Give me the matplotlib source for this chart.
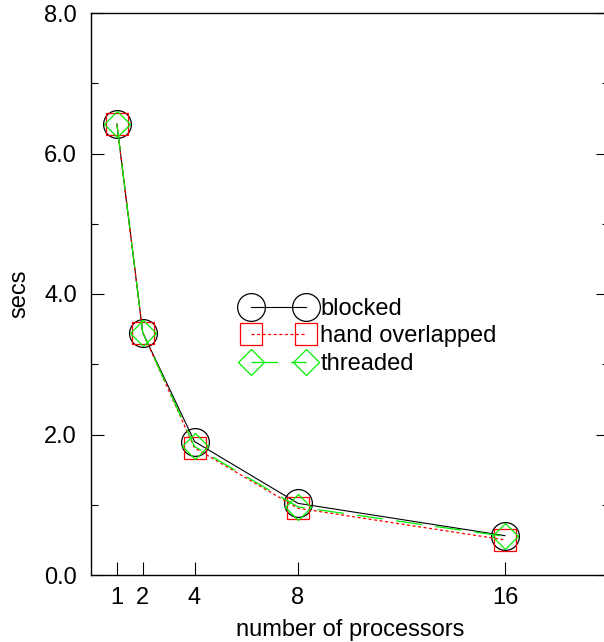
import matplotlib
matplotlib.use("Agg")
import matplotlib.pyplot as plt
from matplotlib.ticker import MultipleLocator, FixedLocator

plt.rcParams['font.family'] = ['Liberation Sans', 'DejaVu Sans']
plt.rcParams['lines.scale_dashes'] = False

procs = [1, 2, 4, 8, 16]
blocked = [6.42, 3.45, 1.90, 1.02, 0.56]
hand_overlapped = [6.42, 3.45, 1.81, 0.95, 0.50]
threaded = [6.42, 3.45, 1.83, 0.97, 0.55]
xticks = [1, 2, 4, 8, 16]
series_names = ["blocked", "hand overlapped", "threaded"]

fig = plt.figure(figsize=(6.04, 6.42), dpi=100)
W, H = 604, 642
ax = fig.add_axes([91 / W, (H - 575) / H, (608.5 - 91) / W, (575 - 13) / H])

ax.plot(procs, blocked, color='black', lw=0.8, marker='o', ms=20,
        mfc='none', mec='black', mew=0.9, label=series_names[0])
ax.plot(procs, hand_overlapped, color='red', lw=0.9, marker='s', ms=16.5,
        mfc='none', mec='red', mew=0.9, dashes=(2.2, 1.8), label=series_names[1])
ax.plot(procs, threaded, color='#00ee00', lw=0.9, marker='D', ms=13,
        mfc='none', mec='#00ee00', mew=0.9, dashes=(19, 9.5), label=series_names[2])

ax.set_xlim(0, 20)
ax.set_ylim(0, 8)
ax.xaxis.set_major_locator(FixedLocator(xticks))
ax.set_xticklabels([str(v) for v in xticks])
ax.yaxis.set_major_locator(MultipleLocator(2))
ax.yaxis.set_minor_locator(MultipleLocator(1))
ax.yaxis.set_major_formatter(matplotlib.ticker.FormatStrFormatter('%.1f'))

ax.tick_params(axis='x', which='both', direction='in', length=9.5, width=0.8,
               top=False, bottom=True, labelsize=17, pad=9)
ax.tick_params(axis='y', which='major', direction='in', length=9.5, width=0.8,
               left=True, right=True, labelsize=17, pad=10)
ax.tick_params(axis='y', which='minor', direction='in', length=5, width=0.8,
               left=True, right=True)
for s in ax.spines.values():
    s.set_linewidth(1.0)

ax.set_xlabel('number of processors', fontsize=17, labelpad=7)
ax.set_ylabel('secs', fontsize=17, labelpad=10)

leg = ax.legend(loc='upper left', bbox_to_anchor=((244 - 91) / (608.5 - 91), (575 - 298) / (575 - 13)),
                frameon=False, numpoints=2, handlelength=2.93, handletextpad=0.3,
                borderpad=0, borderaxespad=0, labelspacing=0.23, fontsize=17)

fig.savefig('out.png', dpi=100)
